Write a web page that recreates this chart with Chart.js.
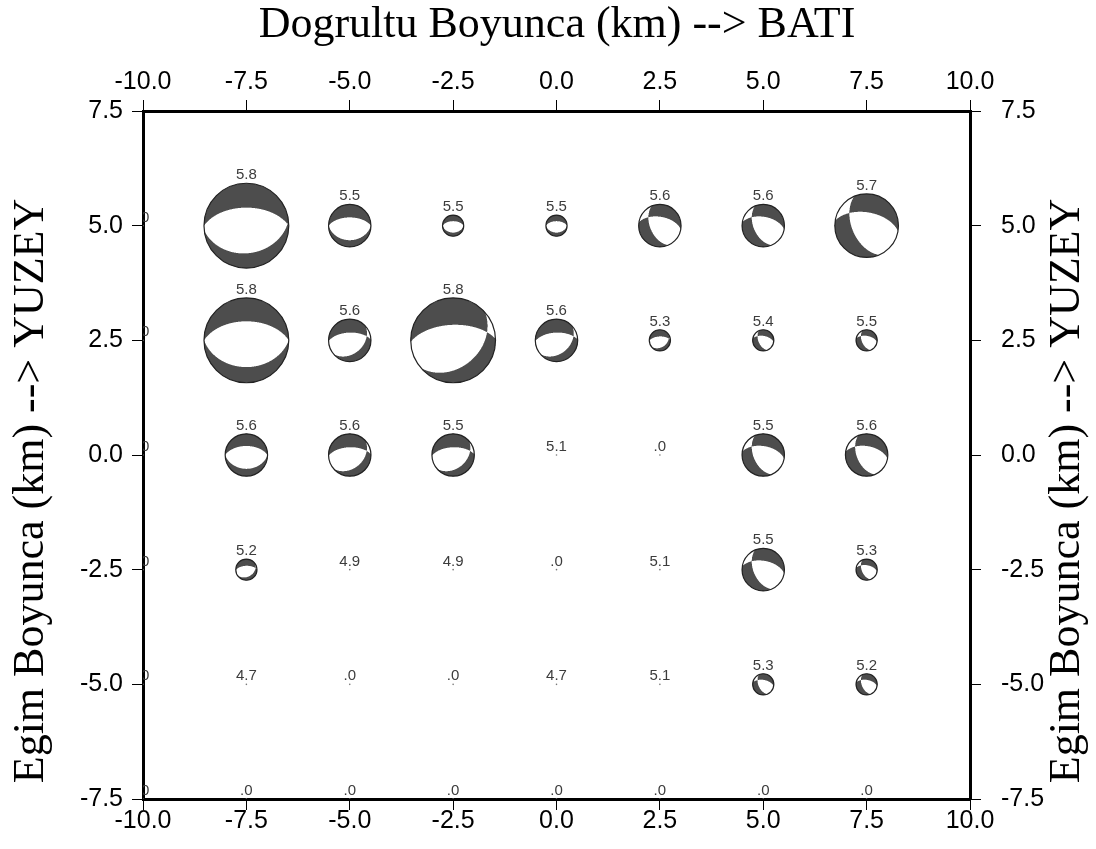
<!DOCTYPE html>
<html>
<head>
<meta charset="utf-8">
<script src="https://cdn.jsdelivr.net/npm/chart.js@4.4.0/dist/chart.umd.min.js"></script>
<style>
  html, body { margin: 0; padding: 0; background: #fff; }
  #wrap { width: 1096px; height: 849px; }
</style>
</head>
<body>
<div id="wrap"><canvas id="fay"></canvas></div>
<script>
// grid of sub-faults (km)
const xCols = [-10, -7.5, -5, -2.5, 0, 2.5, 5, 7.5];
const yRows = [5, 2.5, 0, -2.5, -5, -7.5];

// magnitude printed above each sub-fault
const magnitudes = [
  [0, 5.8, 5.5, 5.5, 5.5, 5.6, 5.6, 5.7],
  [0, 5.8, 5.6, 5.8, 5.6, 5.3, 5.4, 5.5],
  [0, 5.6, 5.6, 5.5, 5.1, 0, 5.5, 5.6],
  [0, 5.2, 4.9, 4.9, 0, 5.1, 5.5, 5.3],
  [0, 4.7, 0, 0, 4.7, 5.1, 5.3, 5.2],
  [0, 0, 0, 0, 0, 0, 0, 0]
];

// slip level -> beachball size
const slip = [
  [0, 4, 2, 1, 1, 2, 2, 3],
  [0, 4, 2, 4, 2, 1, 1, 1],
  [0, 2, 2, 2, 0, 0, 2, 2],
  [0, 1, 0, 0, 0, 0, 2, 1],
  [0, 0, 0, 0, 0, 0, 1, 1],
  [0, 0, 0, 0, 0, 0, 0, 0]
];

// focal mechanisms
const strikes = [
  [0, 270, 270, 270, 270, 157, 157, 157],
  [0, 270, 268, 268, 268, 268, 157, 157],
  [0, 270, 268, 268, 0, 0, 157, 157],
  [0, 268, 0, 0, 0, 0, 157, 157],
  [0, 0, 0, 0, 0, 0, 157, 157],
  [0, 0, 0, 0, 0, 0, 0, 0]
];
const dips = [
  [0, 55, 58, 55, 55, 52, 52, 52],
  [0, 53, 60, 60, 60, 60, 52, 52],
  [0, 55, 60, 60, 0, 0, 52, 52],
  [0, 60, 0, 0, 0, 0, 52, 52],
  [0, 0, 0, 0, 0, 0, 52, 52],
  [0, 0, 0, 0, 0, 0, 0, 0]
];
const rakes = [
  [0, -86, -90, -90, -90, -46, -46, -46],
  [0, -90, -68, -68, -68, -72, -46, -46],
  [0, -90, -68, -68, 0, 0, -46, -46],
  [0, -75, 0, 0, 0, 0, -46, -46],
  [0, 0, 0, 0, 0, 0, -46, -46],
  [0, 0, 0, 0, 0, 0, 0, 0]
];

const xTicks = [-10, -7.5, -5, -2.5, 0, 2.5, 5, 7.5, 10];
const yTicks = [-7.5, -5, -2.5, 0, 2.5, 5, 7.5];

const ballScale = 10.6;   // px per slip level
const darkRGB = '77,77,77';

// build points
const points = [];
yRows.forEach((yv, i) => xCols.forEach((xv, j) => points.push({ x: xv, y: yv })));

function drawBall(ctx, cx, cy, r, strike, dip, rake) {
  const d2r = Math.PI / 180;
  const fs = strike * d2r, dl = dip * d2r, rk = rake * d2r;
  const n = [-Math.sin(dl) * Math.sin(fs), Math.sin(dl) * Math.cos(fs), -Math.cos(dl)];
  const u = [
    Math.cos(rk) * Math.cos(fs) + Math.cos(dl) * Math.sin(rk) * Math.sin(fs),
    Math.cos(rk) * Math.sin(fs) - Math.cos(dl) * Math.sin(rk) * Math.cos(fs),
    -Math.sin(rk) * Math.sin(dl)
  ];
  ctx.beginPath();
  ctx.arc(cx, cy, r, 0, Math.PI * 2);
  ctx.fillStyle = '#fff';
  ctx.fill();
  const ss = 3;
  for (let py = Math.floor(cy - r) - 1; py <= Math.ceil(cy + r); py++) {
    for (let px = Math.floor(cx - r) - 1; px <= Math.ceil(cx + r); px++) {
      let cov = 0;
      for (let sy = 0; sy < ss; sy++) {
        for (let sx = 0; sx < ss; sx++) {
          const X = (px + (sx + 0.5) / ss - cx) / r;
          const Y = (cy - (py + (sy + 0.5) / ss)) / r;
          const rho = Math.sqrt(X * X + Y * Y);
          if (rho > 1) continue;
          const inc = 2 * Math.asin(rho / Math.SQRT2);
          const cn = rho > 0 ? Y / rho : 1, ce = rho > 0 ? X / rho : 0;
          const g = [Math.sin(inc) * cn, Math.sin(inc) * ce, Math.cos(inc)];
          const gn = g[0] * n[0] + g[1] * n[1] + g[2] * n[2];
          const gu = g[0] * u[0] + g[1] * u[1] + g[2] * u[2];
          if (gn * gu > 0) cov++;
        }
      }
      if (cov) {
        ctx.fillStyle = 'rgba(' + darkRGB + ',' + (cov / (ss * ss)) + ')';
        ctx.fillRect(px, py, 1, 1);
      }
    }
  }
  ctx.beginPath();
  ctx.arc(cx, cy, r, 0, Math.PI * 2);
  ctx.strokeStyle = '#222';
  ctx.lineWidth = 1.2;
  ctx.stroke();
}

const beachballs = {
  id: 'beachballs',
  afterDatasetsDraw(chart) {
    const { ctx, chartArea, scales } = chart;
    ctx.save();
    ctx.beginPath();
    ctx.rect(chartArea.left, chartArea.top, chartArea.right - chartArea.left, chartArea.bottom - chartArea.top);
    ctx.clip();
    yRows.forEach((yv, i) => xCols.forEach((xv, j) => {
      const cx = scales.x.getPixelForValue(xv);
      const cy = scales.y.getPixelForValue(yv);
      const r = slip[i][j] * ballScale;
      if (r > 0) drawBall(ctx, cx, cy, r, strikes[i][j], dips[i][j], rakes[i][j]);
      const m = magnitudes[i][j];
      ctx.fillStyle = '#3c3c3c';
      ctx.font = '15px "Liberation Sans", Arial, sans-serif';
      ctx.textAlign = 'center';
      ctx.textBaseline = 'alphabetic';
      ctx.fillText(m === 0 ? '.0' : m.toFixed(1), cx, cy - r - 4);
    }));
    ctx.restore();
  },
  afterDraw(chart) {
    const { ctx } = chart;
    ctx.save();
    ctx.fillStyle = '#000';
    ctx.font = '44px "Liberation Serif", "Times New Roman", serif';
    ctx.textAlign = 'center';
    ctx.textBaseline = 'alphabetic';
    ctx.fillText('Dogrultu Boyunca (km) --> BATI', 557, 37);
    const side = 'Egim Boyunca (km) --> YUZEY';
    [[43, 491], [1079, 491]].forEach(([bx, by]) => {
      ctx.save();
      ctx.translate(bx, by);
      ctx.rotate(-Math.PI / 2);
      ctx.fillText(side, 0, 0);
      ctx.restore();
    });
    ctx.restore();
  }
};

const tickFont = { family: '"Liberation Sans", Arial, sans-serif', size: 25 };
const fmt = v => Number(v).toFixed(1);

function axis(position, min, max, ticks, size, pad) {
  const horiz = position === 'top' || position === 'bottom';
  return {
    type: 'linear',
    position: position,
    min: min,
    max: max,
    afterBuildTicks: s => { s.ticks = ticks.map(v => ({ value: v })); },
    afterFit: s => { if (horiz) s.height = size; else s.width = size; },
    ticks: { callback: fmt, font: tickFont, color: '#000', maxRotation: 0, autoSkip: false, padding: pad },
    grid: { drawOnChartArea: false, drawTicks: true, tickLength: 11, color: '#000', lineWidth: 1 },
    border: { color: '#000', width: 3 }
  };
}

const config = {
  type: 'scatter',
  data: {
    datasets: [{
      data: points,
      pointRadius: 0.8,
      pointBackgroundColor: '#777',
      pointBorderWidth: 0
    }]
  },
  options: {
    responsive: true,
    maintainAspectRatio: false,
    animation: false,
    layout: { padding: 0 },
    plugins: { legend: { display: false }, tooltip: { enabled: false } },
    scales: {
      x: axis('bottom', -10, 10, xTicks, 50, -4),
      x2: axis('top', -10, 10, xTicks, 111, 3),
      y: axis('left', -7.5, 7.5, yTicks, 143, 9),
      y2: axis('right', -7.5, 7.5, yTicks, 126, 20)
    }
  },
  plugins: [beachballs]
};

let myChart = new Chart(document.getElementById('fay'), config);
</script>
</body>
</html>
